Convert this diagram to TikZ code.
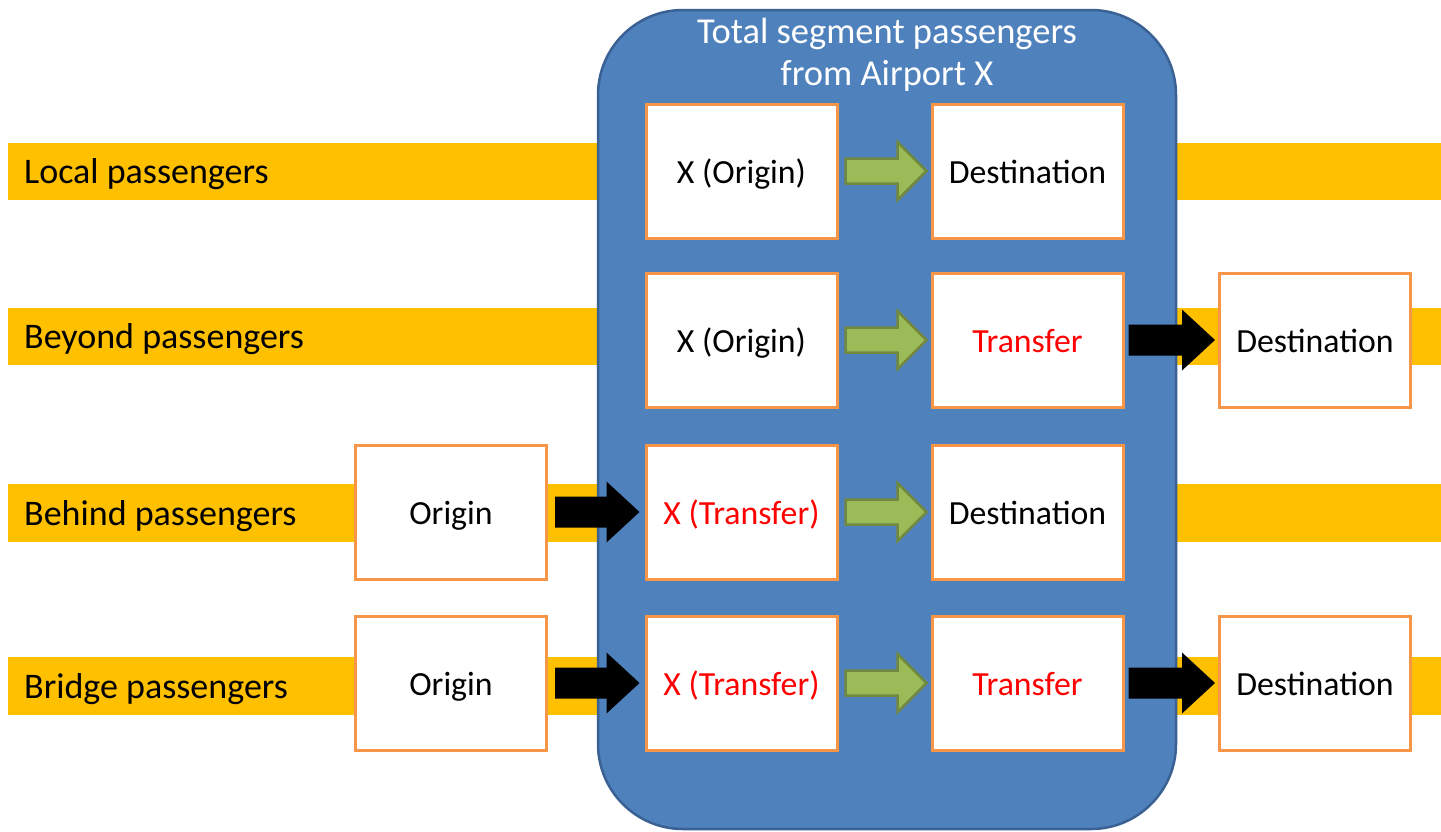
\documentclass[tikz,border=0pt]{standalone}
\usepackage{fontspec}
\setmainfont{Carlito}
\usetikzlibrary{calc}
\definecolor{bandgold}{HTML}{FFC000}
\definecolor{segblue}{HTML}{4F81BD}
\definecolor{segedge}{HTML}{3A6193}
\definecolor{boxorange}{HTML}{F79646}
\definecolor{arrgreen}{HTML}{9BBB59}
\definecolor{arredge}{HTML}{71893F}
\definecolor{hotred}{HTML}{FF0000}

% block arrow: style, start point, tip point, half shaft width, half head width, head length
\newcommand\blockarrow[6]{%
  \path[#1] let \p1=(#2), \p2=(#3) in
    (\x1,{\y1+#4}) -- ({\x2-#6},{\y1+#4}) -- ({\x2-#6},{\y1+#5}) -- (\x2,\y1)
    -- ({\x2-#6},{\y1-#5}) -- ({\x2-#6},{\y1-#4}) -- (\x1,{\y1-#4}) -- cycle;}

\begin{document}
\begin{tikzpicture}[x=1pt,y=-1pt,
  band/.style={fill=bandgold},
  rowlabel/.style={anchor=base west,inner sep=0pt,font=\fontsize{36}{43}\selectfont},
  segment/.style={fill=segblue,draw=segedge,line width=2.5pt,rounded corners=85pt},
  title/.style={align=center,text=white,inner sep=0pt,font=\fontsize{36.5}{42}\selectfont},
  stop/.style={draw=boxorange,fill=white,line width=3pt,minimum width=191pt,minimum height=134pt,
    inner sep=0pt,text height=25pt,text depth=0pt,font=\fontsize{33.8}{40}\selectfont},
  hub/.style={stop,text=hotred},
  greenarrow/.style={fill=arrgreen,draw=arredge,line width=2.5pt,line join=miter},
  blackarrow/.style={fill=black}]
\useasboundingbox (0,0) rectangle (1441,831);

% passenger bands
\fill[band] (8,143) rectangle (1441,200);
\fill[band] (8,308) rectangle (1441,365);
\fill[band] (8,484) rectangle (1441,542);
\fill[band] (8,657) rectangle (1441,715);

\node[rowlabel] (l1) at (24,183) {Local passengers};
\node[rowlabel] (l2) at (24,348) {Beyond passengers};
\node[rowlabel] (l3) at (24,525) {Behind passengers};
\node[rowlabel] (l4) at (24,698) {Bridge passengers};

% segment container
\path[segment] (598,10) rectangle (1176,829);
\node[title] (t) at (887,55) {Total segment passengers\\from Airport X};

% stops
\node[stop] (a1) at (741.5,171) {X (Origin)};
\node[stop] (b1) at (1027.5,171) {Destination};

\node[stop] (a2) at (741.5,340) {X (Origin)};
\node[hub]  (b2) at (1027.5,340) {Transfer};
\node[stop] (c2) at (1315,340) {Destination};

\node[stop] (o3) at (451,512) {Origin};
\node[hub]  (a3) at (741.5,512) {X (Transfer)};
\node[stop] (b3) at (1027.5,512) {Destination};

\node[stop] (o4) at (451,683) {Origin};
\node[hub]  (a4) at (741.5,683) {X (Transfer)};
\node[hub]  (b4) at (1027.5,683) {Transfer};
\node[stop] (c4) at (1315,683) {Destination};

% legs through X
\foreach \r in {1,2,3,4}{
  \blockarrow{greenarrow}{$(a\r.east)+(7,0)$}{$(b\r.west)+(-4,0)$}{12.5pt}{29pt}{29pt}
}

% connecting legs
\blockarrow{blackarrow}{$(o3.east)+(7,0)$}{$(a3.west)+(-5,0)$}{15.5pt}{30.5pt}{33pt}
\blockarrow{blackarrow}{$(o4.east)+(7,0)$}{$(a4.west)+(-5,0)$}{15.5pt}{30.5pt}{33pt}
\blockarrow{blackarrow}{$(b2.east)+(4,0)$}{$(c2.west)+(-3,0)$}{15.5pt}{30.5pt}{33pt}
\blockarrow{blackarrow}{$(b4.east)+(4,0)$}{$(c4.west)+(-3,0)$}{15.5pt}{30.5pt}{33pt}
\end{tikzpicture}
\end{document}
